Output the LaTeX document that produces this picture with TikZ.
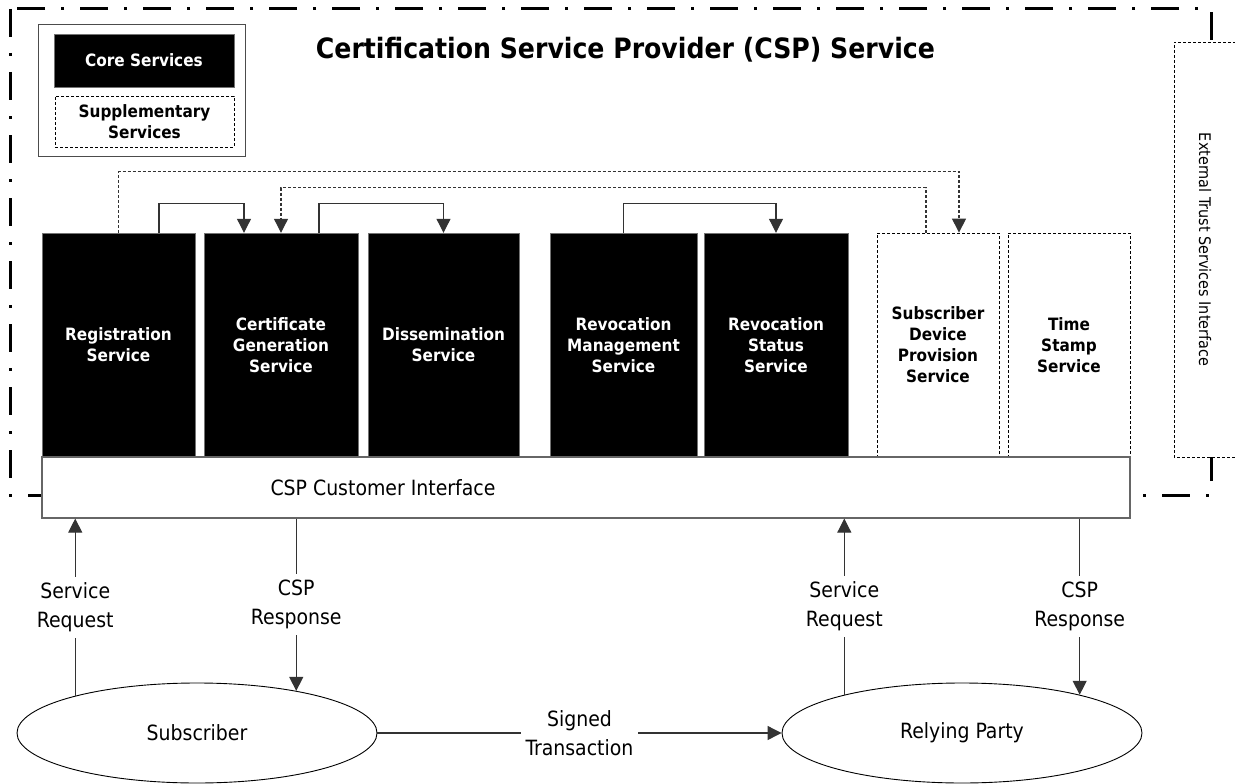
\documentclass[tikz,border=0pt]{standalone}
\usepackage{fontspec}
\setmainfont{DejaVu Sans Condensed}
\usetikzlibrary{arrows.meta,shapes.geometric}

\begin{document}
\begin{tikzpicture}[x=1pt,y=-1pt,
  core/.style={fill=black,draw=black!55,text=white,align=center,inner sep=0pt,
    minimum height=224pt,font=\bfseries\fontsize{17}{21}\selectfont},
  supp/.style={fill=white,draw=black,dash pattern=on 3pt off 2pt,line width=0.8pt,
    align=center,inner sep=0pt,font=\bfseries\fontsize{17}{21}\selectfont},
  party/.style={ellipse,draw,line width=0.9pt,minimum width=360pt,minimum height=100pt,
    inner sep=0pt,font=\fontsize{21}{28}\selectfont},
  msg/.style={fill=white,align=center,inner xsep=5pt,inner ysep=6pt,
    font=\fontsize{21}{29}\selectfont},
  flow/.style={draw=black!80,line width=1.1pt,-{Triangle[length=14pt,width=14pt]}},
  optflow/.style={flow,dash pattern=on 3pt off 2pt}]
\useasboundingbox (0,0) rectangle (1235,784);
\clip (0,0) rectangle (1235,784);

% CSP boundary
\draw[line width=3pt,dash pattern=on 28pt off 16pt on 3pt off 16pt] (10,9) rectangle (1211,495);
\node[supp,font=\fontsize{16}{19}\selectfont,rotate=-90,minimum width=415pt,minimum height=62pt]
  (ext) at (1205,249.5) {External Trust Services Interface};
\node[font=\bfseries\fontsize{28}{34}\selectfont] (title) at (625.5,50) {Certification Service Provider (CSP) Service};

% legend
\node[draw=black!70,line width=1pt,minimum width=207pt,minimum height=131pt] (legend) at (141.5,90.5) {};
\node[core,minimum width=180pt,minimum height=53pt] (lcore) at (144,60.5) {Core Services};
\node[supp,minimum width=179pt,minimum height=51pt] (lsupp) at (144.5,121.5) {Supplementary\\Services};

% services
\node[core,minimum width=153pt] (reg) at (118.5,345) {Registration\\Service};
\node[core,minimum width=154pt] (cert) at (281,345) {Certificate\\Generation\\Service};
\node[core,minimum width=151pt] (dissem) at (443.5,345) {Dissemination\\Service};
\node[core,minimum width=147pt] (revmgmt) at (623.5,345) {Revocation\\Management\\Service};
\node[core,minimum width=144pt] (revstat) at (776,345) {Revocation\\Status\\Service};
\node[supp,minimum width=122pt,minimum height=224pt] (subdev) at (938,345) {Subscriber\\Device\\Provision\\Service};
\node[supp,minimum width=122pt,minimum height=224pt] (tss) at (1069,345) {Time\\Stamp\\Service};

\node[fill=white,draw=black!60,line width=1.2pt,minimum width=1088pt,minimum height=61pt,inner sep=0pt]
  (iface) at (586,487.5) {};
\node[font=\fontsize{21}{28}\selectfont] (ifacelbl) at (383,487.5) {CSP Customer Interface};

% internal flows
\draw[optflow] (reg.north) -- ++(0,-61) -| ([xshift=21pt]subdev.north);
\draw[optflow] ([xshift=-12pt]subdev.north) -- ++(0,-45) -| (cert.north);
\draw[flow] ([xshift=40.5pt]reg.north) -- ++(0,-29) -| ([xshift=-37pt]cert.north);
\draw[flow] ([xshift=38pt]cert.north) -- ++(0,-29) -| (dissem.north);
\draw[flow] (revmgmt.north) -- ++(0,-29) -| (revstat.north);

% parties
\node[party] (sub) at (197,733) {Subscriber};
\node[party] (rel) at (962,733) {Relying Party};

\draw[flow] (sub.163.9) -- node[msg] {Service\\Request} (sub.163.9 |- iface.south);
\draw[flow] (iface.south -| sub.23) -- node[msg] {CSP\\Response} (sub.23);
\draw[flow] (rel.162.5) -- node[msg] {Service\\Request} (rel.162.5 |- iface.south);
\draw[flow] (iface.south -| rel.18) -- node[msg] {CSP\\Response} (rel.18);
\draw[flow] (sub) -- node[msg] {Signed\\Transaction} (rel);
\end{tikzpicture}
\end{document}
